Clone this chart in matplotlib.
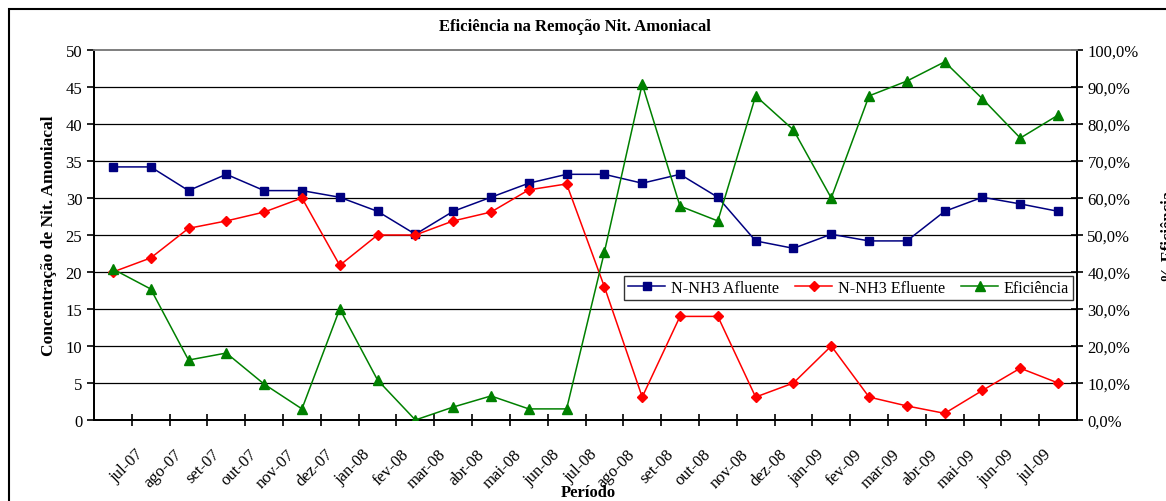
import numpy as np
import matplotlib.pyplot as plt
import matplotlib.transforms as mtransforms
from matplotlib.patches import Rectangle

plt.rcParams['font.family'] = ['Liberation Serif', 'DejaVu Serif']

# meses (rotulos do eixo x)
meses = ['jul-07', 'ago-07', 'set-07', 'out-07', 'nov-07', 'dez-07',
         'jan-08', 'fev-08', 'mar-08', 'abr-08', 'mai-08', 'jun-08',
         'jul-08', 'ago-08', 'set-08', 'out-08', 'nov-08', 'dez-08',
         'jan-09', 'fev-09', 'mar-09', 'abr-09', 'mai-09', 'jun-09', 'jul-09']

afluente = [34.2, 34.2, 31.0, 33.2, 31.0, 31.0, 30.1, 28.2, 25.1, 28.2, 30.1, 32.0, 33.2,
            33.2, 32.0, 33.2, 30.1, 24.2, 23.2, 25.1, 24.2, 24.2, 28.2, 30.1, 29.2, 28.2]
efluente = [20.0, 21.9, 25.9, 26.9, 28.1, 30.0, 20.9, 25.0, 25.0, 26.9, 28.1, 31.1, 31.9,
            18.0, 3.1, 14.0, 14.0, 3.1, 5.0, 10.0, 3.1, 1.9, 0.9, 4.0, 7.0, 5.0]
eficiencia = [40.8, 35.4, 16.2, 18.1, 9.7, 3.0, 30.0, 10.8, 0.0, 3.5, 6.5, 3.0, 3.0,
              45.4, 90.8, 57.8, 53.8, 87.6, 78.4, 60.0, 87.6, 91.6, 96.8, 86.8, 76.2, 82.4]

x = np.arange(len(afluente))

fig = plt.figure(figsize=(11.66, 5.02), dpi=100)
ax = fig.add_axes([94/1166, 81/502, 983/1166, 370/502])
ax2 = ax.twinx()

# borda do grafico
fig.patches.append(Rectangle((9/1166, -0.05), 1.2, 1.05 - 10/502, transform=fig.transFigure,
                             fill=False, edgecolor='black', lw=1.5))

for yv in range(5, 50, 5):
    ax.axhline(yv, color='black', lw=0.9, zorder=0)

l1, = ax.plot(x, afluente, color='#000080', marker='s', markersize=5.5, lw=1.1,
              label='N-NH3 Afluente', zorder=3)
l2, = ax.plot(x, efluente, color='#FF0000', marker='D', markersize=5, lw=1.1,
              label='N-NH3 Efluente', zorder=3)
l3, = ax2.plot(x, eficiencia, color='#008000', marker='^', markersize=6.5, lw=1.1,
               label='Eficiência', zorder=3)

ax.set_xlim(-0.5, len(afluente) - 0.5)
ax.set_ylim(0, 50)
ax2.set_ylim(0, 100)
ax.set_yticks(range(0, 51, 5))
ax2.set_yticks(range(0, 101, 10))
ax2.set_yticklabels(['%d,0%%' % v for v in range(0, 101, 10)])

ax.set_xticks(np.arange(len(meses)) + 0.5)
ax.set_xticklabels(meses, rotation=45, ha='right', rotation_mode='anchor')

ax.tick_params(axis='x', direction='inout', length=8, width=1.2, labelsize=12, pad=11)
ax.tick_params(axis='y', direction='out', length=5, width=1.2, labelsize=12, colors='black')
ax2.tick_params(axis='y', direction='inout', length=8, width=1.2, labelsize=12)

# desloca os rotulos do eixo x um pouco para a direita e para baixo
desloc = mtransforms.ScaledTranslation(4/100, -5/100, fig.dpi_scale_trans)
for lbl in ax.get_xticklabels():
    lbl.set_transform(lbl.get_transform() + desloc)

for a in (ax, ax2):
    for s in ['left', 'right', 'bottom']:
        a.spines[s].set_linewidth(1.3)
    a.spines['top'].set_color('#808080')
    a.spines['top'].set_linewidth(1.3)

ax.set_ylabel('Concentração de Nit. Amoniacal', fontsize=12.5, fontweight='bold', labelpad=6)
ax2.set_ylabel('% Eficiência', fontsize=12, fontweight='bold')
ax2.yaxis.set_label_coords(1.085, 0.5)
ax.set_xlabel('Período', fontsize=12, fontweight='bold')
ax.xaxis.set_label_coords(0.5025, -0.172)

fig.text(0.493, 0.946, 'Eficiência na Remoção Nit. Amoniacal', ha='center', va='center',
         fontsize=12, fontweight='bold')

leg = ax.legend(handles=[l1, l2, l3], ncol=3, loc='upper right', bbox_to_anchor=(0.996, 0.389),
                fontsize=11.6, frameon=True, fancybox=False, edgecolor='black',
                borderpad=0.25, handlelength=2.3, columnspacing=1.0, handletextpad=0.35,
                borderaxespad=0)
leg.get_frame().set_linewidth(1.0)
leg.set_zorder(5)

fig.savefig('out.png', dpi=100)
